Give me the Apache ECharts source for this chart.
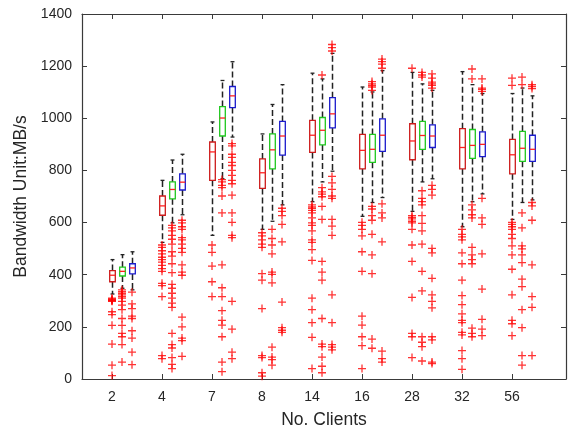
<!DOCTYPE html>
<html>
<head>
<meta charset="utf-8">
<script src="https://cdn.jsdelivr.net/npm/echarts@6/dist/echarts.min.js"></script>
<style>
html,body{margin:0;padding:0;background:#fff;}
#chart{width:577px;height:434px;}
</style>
</head>
<body>
<div id="chart"></div>
<script>
// Group (category) labels
const groupLabels = ['2', '4', '7', '8', '14', '16', '28', '32', '56'];

// Box statistics per group: [lowerWhisker, q1, median, q3, upperWhisker]
const redBoxes = [
  [326, 373, 398, 416, 458],
  [524, 628, 664, 702, 762],
  [551, 762, 871, 909, 986],
  [574, 731, 791, 844, 940],
  [680, 869, 935, 992, 1173],
  [624, 806, 877, 938, 1120],
  [643, 841, 913, 979, 1176],
  [584, 806, 888, 960, 1179],
  [612, 787, 860, 919, 1095]
];
const greenBoxes = [
  [348, 395, 413, 429, 477],
  [599, 691, 727, 756, 840],
  [768, 932, 1001, 1045, 1145],
  [605, 806, 879, 940, 1053],
  [756, 898, 954, 1003, 1151],
  [677, 831, 881, 938, 1101],
  [756, 881, 934, 988, 1132],
  [680, 846, 896, 957, 1129],
  [677, 835, 885, 950, 1116]
];
const blueBoxes = [
  [342, 403, 426, 442, 488],
  [630, 725, 755, 787, 862],
  [928, 1041, 1086, 1122, 1217],
  [668, 859, 932, 988, 1129],
  [797, 963, 1017, 1079, 1249],
  [696, 873, 935, 998, 1183],
  [768, 888, 932, 975, 1107],
  [710, 853, 900, 948, 1095],
  [687, 835, 881, 935, 1086]
];

// Outliers per group
const redOutliers = [
  [310, 307, 304, 302, 300, 298, 258, 247, 206, 134, 53, 13],
  [514, 505, 492, 480, 467, 458, 448, 436, 423, 413, 367, 358, 316, 90, 78],
  [514, 486, 433, 373, 316],
  [561, 549, 534, 517, 505, 404, 379, 270, 90, 82, 24, 11],
  [668, 660, 655, 647, 637, 618, 599, 589, 568, 534, 524, 496, 455, 310, 266, 216, 160, 40],
  [601, 589, 574, 549, 488, 413, 241, 207, 162, 128, 40],
  [1192, 627, 620, 614, 605, 599, 574, 514, 451, 313, 175, 162, 82],
  [574, 555, 545, 534, 484, 442, 379, 320, 285, 250, 225, 216, 179, 169, 109, 78, 37],
  [1154, 1126, 601, 593, 584, 574, 555, 539, 511, 476, 421, 323, 225, 212, 166]
];
const greenOutliers = [
  [342, 335, 329, 323, 316, 310, 298, 283, 266, 232, 206, 175, 162, 132, 65],
  [589, 580, 568, 551, 536, 517, 488, 471, 442, 408, 363, 348, 329, 310, 291, 275, 175, 132, 119, 82, 56, 40],
  [765, 756, 743, 734, 702, 637, 438, 350, 316, 262, 225, 207, 162, 65, 28],
  [574, 539, 514, 480, 410, 401, 369, 122, 84, 74, 53],
  [1166, 734, 718, 709, 699, 662, 612, 451, 410, 379, 232, 134, 124, 84, 49, 24],
  [1141, 1132, 1126, 1120, 1107, 662, 652, 627, 609, 555, 476, 404, 153, 118],
  [1176, 1166, 1158, 722, 693, 680, 668, 627, 597, 568, 517, 413, 338, 162, 141, 124, 69],
  [1189, 1151, 668, 649, 630, 618, 505, 476, 458, 442, 195, 175, 162],
  [1158, 1129, 637, 580, 511, 499, 476, 446, 383, 354, 266, 197, 90, 53]
];
const blueOutliers = [
  [333, 288, 270, 241, 232, 185, 157, 103, 55],
  [609, 599, 584, 574, 542, 534, 517, 501, 486, 438, 410, 398, 237, 200, 157, 147, 87],
  [903, 894, 862, 850, 831, 819, 800, 781, 762, 749, 705, 637, 601, 551, 542, 298, 191, 103, 78],
  [655, 643, 627, 593, 526, 295, 197, 187, 179],
  [1283, 1271, 1258, 777, 752, 727, 702, 693, 612, 586, 551, 323, 216, 132, 122, 112],
  [1227, 1217, 1208, 1192, 672, 637, 618, 526, 107, 78, 65],
  [1170, 1154, 1139, 1132, 1126, 1116, 743, 727, 705, 501, 484, 386, 323, 298, 273, 162, 150, 65, 59],
  [1151, 1116, 1111, 1103, 693, 618, 593, 480, 345, 229, 191, 166],
  [1129, 1122, 1114, 677, 664, 609, 438, 316, 275, 90]
];

const yTicks = [0, 200, 400, 600, 800, 1000, 1200, 1400];

// ---- build options ----
const GROUP_STEP = 5;
const tickPositions = groupLabels.map((_, i) => i * GROUP_STEP);

function boxData(boxes, offset) {
  return boxes.map((b, i) => [i * GROUP_STEP + offset].concat(b));
}
function outlierData(outs, offset) {
  const arr = [];
  outs.forEach((list, i) => list.forEach(v => arr.push([i * GROUP_STEP + offset, v])));
  return arr;
}

function makeBoxSeries(boxes, offset, color) {
  return {
    type: 'custom',
    data: boxData(boxes, offset),
    encode: { x: 0, y: [1, 2, 3, 4, 5] },
    z: 3,
    renderItem: function (params, api) {
      const x = api.value(0);
      const pLow = api.coord([x, api.value(1)]);
      const pQ1 = api.coord([x, api.value(2)]);
      const pMed = api.coord([x, api.value(3)]);
      const pQ3 = api.coord([x, api.value(4)]);
      const pHigh = api.coord([x, api.value(5)]);
      const w = api.size([0.56, 0])[0];
      const cw = w * 0.35;
      const cx = Math.round(pMed[0]) + 0.5;
      const dash = { stroke: '#222', lineWidth: 1.5, lineDash: [6, 3] };
      return {
        type: 'group',
        children: [
          { type: 'line', shape: { x1: cx, y1: pQ3[1], x2: cx, y2: pHigh[1] }, style: dash },
          { type: 'line', shape: { x1: cx, y1: pQ1[1], x2: cx, y2: pLow[1] }, style: dash },
          { type: 'line', shape: { x1: cx - cw, y1: pHigh[1], x2: cx + cw, y2: pHigh[1] }, style: { stroke: '#222', lineWidth: 1.3 } },
          { type: 'line', shape: { x1: cx - cw, y1: pLow[1], x2: cx + cw, y2: pLow[1] }, style: { stroke: '#222', lineWidth: 1.3 } },
          { type: 'rect', shape: { x: cx - w / 2, y: pQ3[1], width: w, height: pQ1[1] - pQ3[1] }, style: { fill: '#fff', stroke: color, lineWidth: 1.3 } },
          { type: 'line', shape: { x1: cx - w / 2, y1: pMed[1], x2: cx + w / 2, y2: pMed[1] }, style: { stroke: '#ff2020', lineWidth: 1.3 } }
        ]
      };
    }
  };
}

function makeOutlierSeries(outs, offset) {
  return {
    type: 'scatter',
    data: outlierData(outs, offset),
    symbol: 'path://M0,5L10,5M5,0L5,10',
    symbolSize: 8,
    z: 4,
    itemStyle: { color: 'rgba(0,0,0,0)', borderColor: '#ff0000', borderWidth: 1.3 },
    emphasis: { disabled: true },
    silent: true
  };
}

const axisColor = '#3a3a3a';
const font = 'Liberation Sans, Arial, Helvetica, sans-serif';

const option = {
  animation: false,
  backgroundColor: '#ffffff',
  grid: { left: 82, top: 14, width: 484, height: 371.7, containLabel: false },
  xAxis: [
    {
      type: 'value', min: -3, max: 45.4, position: 'bottom',
      name: 'No. Clients', nameLocation: 'middle', nameGap: 32,
      nameTextStyle: { fontSize: 17.5, color: '#262626', fontFamily: font },
      axisLine: { show: true, onZero: false, lineStyle: { color: axisColor, width: 1.2 } },
      axisTick: { show: true, inside: true, length: 5, customValues: tickPositions, lineStyle: { color: axisColor } },
      axisLabel: {
        show: true, margin: 11, fontSize: 14, color: '#262626', fontFamily: font,
        customValues: tickPositions,
        formatter: v => groupLabels[Math.round(v / GROUP_STEP)]
      },
      splitLine: { show: false }
    },
    {
      type: 'value', min: -3, max: 45.4, position: 'top',
      axisLine: { show: true, onZero: false, lineStyle: { color: axisColor, width: 1.2 } },
      axisTick: { show: true, inside: true, length: 5, customValues: tickPositions, lineStyle: { color: axisColor } },
      axisLabel: { show: false },
      splitLine: { show: false }
    }
  ],
  yAxis: [
    {
      type: 'value', min: 0, max: 1400, interval: 200, position: 'left',
      name: 'Bandwidth Unit:MB/s', nameLocation: 'middle', nameGap: 39, nameRotate: 90,
      nameTextStyle: { fontSize: 17.5, color: '#262626', fontFamily: font },
      axisLine: { show: true, onZero: false, lineStyle: { color: axisColor, width: 1.2 } },
      axisTick: { show: true, inside: true, length: 5, lineStyle: { color: axisColor } },
      axisLabel: { margin: 10, fontSize: 14, color: '#262626', fontFamily: font,
        formatter: v => String(v) },
      splitLine: { show: false }
    },
    {
      type: 'value', min: 0, max: 1400, interval: 200, position: 'right',
      axisLine: { show: true, onZero: false, lineStyle: { color: axisColor, width: 1.2 } },
      axisTick: { show: true, inside: true, length: 5, lineStyle: { color: axisColor } },
      axisLabel: { show: false },
      splitLine: { show: false }
    }
  ],
  series: [
    makeBoxSeries(redBoxes, 0, '#cc1a1a'),
    makeBoxSeries(greenBoxes, 1, '#1ec81e'),
    makeBoxSeries(blueBoxes, 2, '#1a1acc'),
    makeOutlierSeries(redOutliers, 0),
    makeOutlierSeries(greenOutliers, 1),
    makeOutlierSeries(blueOutliers, 2)
  ]
};

const chart = echarts.init(document.getElementById('chart'), null, { renderer: 'canvas' });
chart.setOption(option);
</script>
</body>
</html>
